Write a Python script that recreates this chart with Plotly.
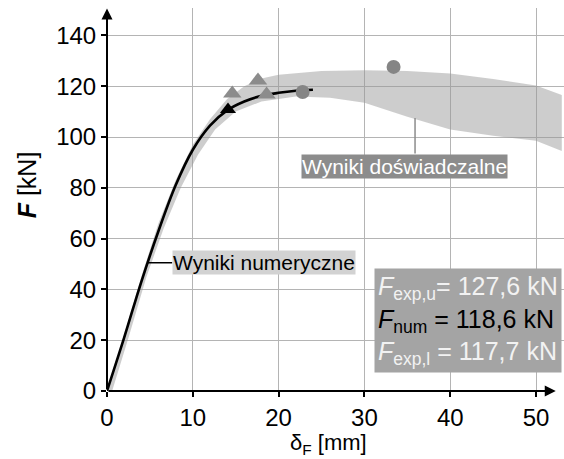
import plotly.graph_objects as go

# Numerical load-displacement curve
num_d = [0, 2, 4, 6, 8, 10, 12, 14, 16, 18, 20, 22, 24]
num_F = [0, 21, 43, 63, 81, 95, 104.5, 110.5, 114, 116.2, 117.4, 118.2, 118.6]

# Envelope of experimental results (upper and lower bound)
band_up_d = [0, 2, 4, 6, 8, 10, 12, 14, 16, 18, 20, 25, 30, 35, 40, 45, 50, 53]
band_up_F = [0, 22, 45, 66, 83, 97, 107, 115, 120, 123, 124.5, 126, 126.3, 126, 125, 122.8, 120.3, 116.5]
band_lo_d = [0.6, 2.6, 4.6, 6.6, 8.6, 10.6, 12.6, 15, 18, 22, 26, 30, 35, 40, 45, 50, 53]
band_lo_F = [0, 22, 45, 64, 80, 93, 103, 110, 114, 116, 115.5, 113.5, 108, 103, 100.5, 98.5, 94.5]

# Experimental peak points
tri_exp_d = [14.6, 17.6, 18.6]
tri_exp_F = [117.1, 122.3, 116.7]
circ_exp_d = [22.8, 33.4]
circ_exp_F = [117.7, 127.6]
tri_num_d = [14.1]
tri_num_F = [110.8]

x_ticks = [0, 10, 20, 30, 40, 50]
y_ticks = [0, 20, 40, 60, 80, 100, 120, 140]

FONT = "Liberation Sans, Arial, sans-serif"

fig = go.Figure()

fig.add_trace(go.Scatter(
    x=band_up_d + band_lo_d[::-1], y=band_up_F + band_lo_F[::-1],
    fill="toself", fillcolor="rgba(150,150,150,0.48)", mode="none",
    hoverinfo="skip", showlegend=False))

fig.add_trace(go.Scatter(
    x=num_d, y=num_F, mode="lines", line=dict(color="black", width=2.6, shape="spline"),
    showlegend=False))

fig.add_trace(go.Scatter(
    x=tri_exp_d, y=tri_exp_F, mode="markers",
    marker=dict(symbol="triangle-up", size=16, color="#8c8c8c"), showlegend=False))
fig.add_trace(go.Scatter(
    x=circ_exp_d, y=circ_exp_F, mode="markers",
    marker=dict(symbol="circle", size=14, color="#858585"), showlegend=False))
fig.add_trace(go.Scatter(
    x=tri_num_d, y=tri_num_F, mode="markers",
    marker=dict(symbol="triangle-up", size=14, color="black"), showlegend=False))

# Leader lines for the labels
fig.add_shape(type="line", x0=4.7, y0=50.5, x1=7.6, y1=50.5,
              line=dict(color="black", width=1.5))
fig.add_shape(type="line", x0=35.9, y0=107.5, x1=35.9, y1=93.5,
              line=dict(color="#8c8c8c", width=1.5))

# Axis lines with arrows
fig.add_annotation(x=52.3, y=0, ax=0, ay=0, xref="x", yref="y", axref="x", ayref="y",
                   showarrow=True, arrowhead=2, arrowsize=1.1, arrowwidth=2,
                   arrowcolor="black", text="")
fig.add_annotation(x=0, y=150.6, ax=0, ay=0, xref="x", yref="y", axref="x", ayref="y",
                   showarrow=True, arrowhead=2, arrowsize=1.1, arrowwidth=2,
                   arrowcolor="black", text="")

fig.add_annotation(x=7.6, y=50.5, xanchor="left", yanchor="middle", showarrow=False,
                   text="Wyniki numeryczne", bgcolor="#d2d2d2", borderpad=0,
                   font=dict(family=FONT, size=21, color="black"))
fig.add_annotation(x=34.7, y=88.4, xanchor="center", yanchor="middle", showarrow=False,
                   text="Wyniki doświadczalne", bgcolor="#8c8c8c", borderpad=0,
                   font=dict(family=FONT, size=21, color="white"))

box_text = ("<span style='color:#f2f2f2'><i>F</i><sub>exp,u</sub>= 127,6 kN</span><br>"
            "<span style='color:black'><i>F</i><sub>num</sub> = 118,6 kN</span><br>"
            "<span style='color:#f2f2f2'><i>F</i><sub>exp,l</sub> = 117,7 kN</span>")
fig.add_annotation(x=53.0, y=48.4, xanchor="right", yanchor="top", showarrow=False,
                   text=box_text, align="left", bgcolor="#a4a4a4", borderpad=3,
                   font=dict(family=FONT, size=25, color="black"))

fig.add_annotation(xref="paper", yref="y", x=-0.175, y=81, xanchor="center", yanchor="middle",
                   showarrow=False, textangle=-90,
                   text="<b><i>F</i></b> [kN]", font=dict(family=FONT, size=25, color="black"))
fig.add_annotation(xref="x", yref="paper", x=25.8, y=-0.139, xanchor="center", yanchor="middle",
                   showarrow=False,
                   text="δ<sub>F</sub> [mm]", font=dict(family=FONT, size=22, color="black"))

fig.update_xaxes(range=[0, 53.26], tickvals=x_ticks, ticks="outside", ticklen=5,
                 tickcolor="black", tickwidth=1.5, showline=False, zeroline=False,
                 showgrid=True, gridcolor="#b4b4b4", gridwidth=1,
                 tickfont=dict(family=FONT, size=24, color="black"), fixedrange=True)
fig.update_yaxes(range=[0, 150.8], tickvals=y_ticks, ticks="outside", ticklen=5,
                 tickcolor="black", tickwidth=1.5, showline=False, zeroline=False,
                 showgrid=True, gridcolor="#b4b4b4", gridwidth=1,
                 tickfont=dict(family=FONT, size=24, color="black"), fixedrange=True)

fig.update_layout(width=564, height=459, margin=dict(l=107, r=0, t=8, b=68),
                  plot_bgcolor="white", paper_bgcolor="white", showlegend=False)

fig.write_html("out.html")
